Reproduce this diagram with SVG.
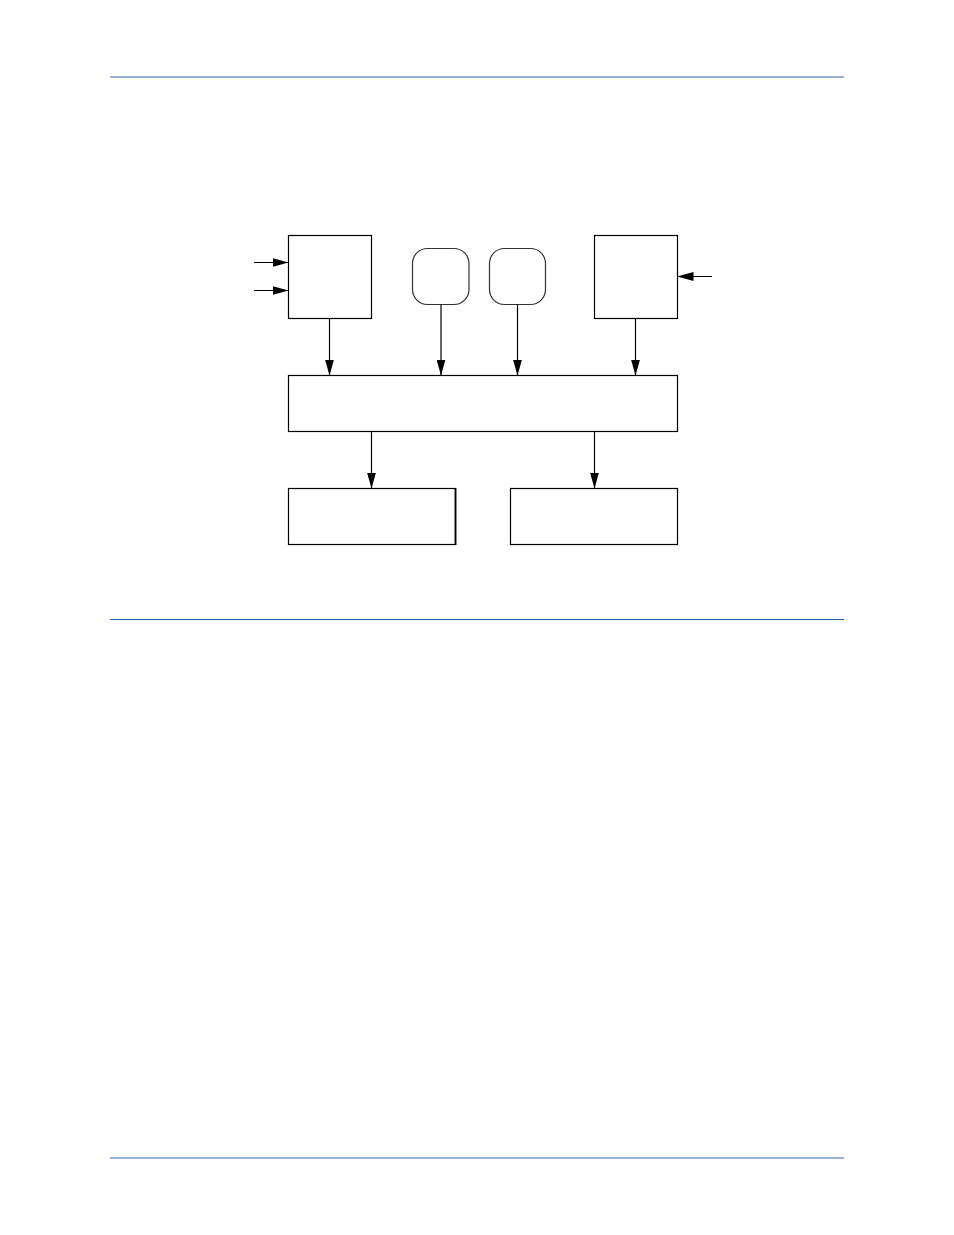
<svg xmlns="http://www.w3.org/2000/svg" width="954" height="1235" viewBox="0 0 954 1235">
<style>
.box{fill:#fff;stroke:#000;stroke-width:1.2}
.rbox{fill:#fff;stroke:#333;stroke-width:1.2}
.conn line{stroke:#000;stroke-width:1.2;marker-end:url(#ah)}
</style>
<defs>
<marker id="ah" markerWidth="16" markerHeight="9" refX="16" refY="4.5" orient="auto" markerUnits="userSpaceOnUse">
<path d="M0,0 L16,4.5 L0,9 Z" fill="#000"/>
</marker>
</defs>
<rect width="954" height="1235" fill="#fff"/>
<g id="page-rules">
<line x1="110" y1="77" x2="844" y2="77" stroke="#95b3d7" stroke-width="2"/>
<line x1="110" y1="619.5" x2="844" y2="619.5" stroke="#2a64a0" stroke-width="1"/>
<line x1="110" y1="1158" x2="844" y2="1158" stroke="#95b3d7" stroke-width="2"/>
</g>
<g id="node-left-input"><rect class="box" x="288.5" y="235.5" width="83" height="83"/></g>
<g id="node-round-1"><rect class="rbox" x="412.5" y="248.5" width="56.5" height="56" rx="15" ry="15"/></g>
<g id="node-round-2"><rect class="rbox" x="489.5" y="248.5" width="56" height="56" rx="15" ry="15"/></g>
<g id="node-right-input"><rect class="box" x="594.5" y="235.5" width="83" height="83"/></g>
<g id="node-bus"><rect class="box" x="288.5" y="375.5" width="389" height="56"/></g>
<g id="node-out-left"><rect class="box" x="288.5" y="488.5" width="167" height="56"/><line x1="455.5" y1="488" x2="455.5" y2="545" stroke="#000" stroke-width="1.8"/></g>
<g id="node-out-right"><rect class="box" x="510.5" y="488.5" width="167" height="56"/></g>
<g id="connectors" class="conn">
<line x1="254" y1="262.5" x2="288.5" y2="262.5"/>
<line x1="254" y1="290.5" x2="288.5" y2="290.5"/>
<line x1="712" y1="276.5" x2="677.5" y2="276.5"/>
<line x1="329.5" y1="318.5" x2="329.5" y2="375.5"/>
<line x1="441" y1="304.5" x2="441" y2="375.5"/>
<line x1="517.5" y1="304.5" x2="517.5" y2="375.5"/>
<line x1="635.5" y1="318.5" x2="635.5" y2="375.5"/>
<line x1="371.5" y1="431.5" x2="371.5" y2="488.5"/>
<line x1="594.5" y1="431.5" x2="594.5" y2="488.5"/>
</g>
</svg>
